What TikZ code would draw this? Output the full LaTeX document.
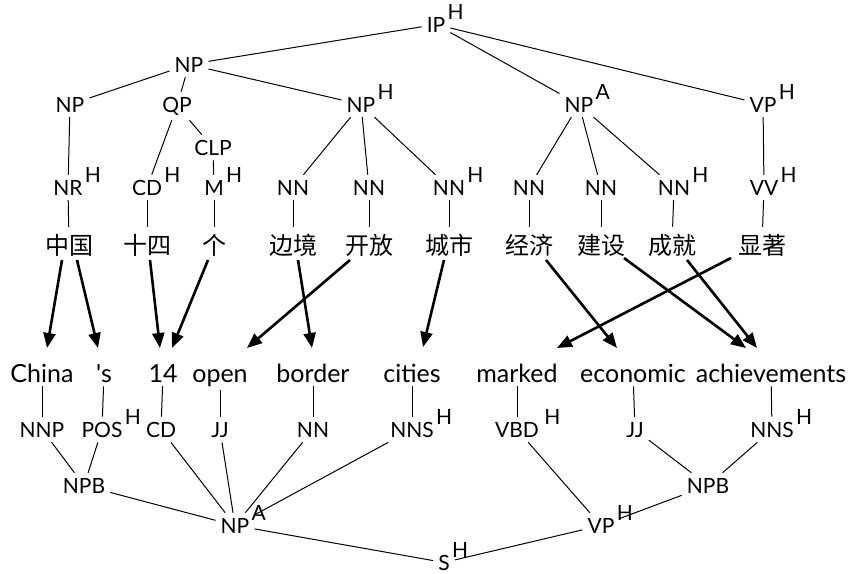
\documentclass[tikz,border=0pt]{standalone}
\usepackage{fontspec}
\setmainfont{Lato}
\newfontfamily\zhfont{Noto Sans CJK SC}
\usetikzlibrary{arrows.meta,calc}
\begin{document}
\begin{tikzpicture}[x=1pt,y=-1pt,
 tag/.style={font=\fontsize{21}{21}\selectfont, inner xsep=5pt, inner ysep=5pt, anchor=base},
 wd/.style={font=\fontsize{25}{25}\selectfont, inner sep=4pt, anchor=base},
 zh/.style={font=\zhfont\fontsize{24}{24}\selectfont, inner sep=7pt},
 sup/.style={font=\fontsize{21}{21}\selectfont, inner sep=0pt, anchor=base west, xshift=-3pt, yshift=-8pt},
 hh/.style={label={[sup]north east:H}},
 aa/.style={label={[sup]north east:A}},
 ln/.style={line width=1pt},
 arr/.style={line width=2.6pt, -{Triangle[length=15pt,width=12pt]}},
]
\useasboundingbox (0,0) rectangle (848,573);
% top tree
\node[tag,hh] (ip) at (436,32) {IP};
\node[tag] (np0) at (189,72) {NP};
\node[tag] (np1) at (70,112) {NP};
\node[tag] (qp) at (177,112) {QP};
\node[tag,hh] (nph) at (361,112) {NP};
\node[tag,aa] (npa) at (579,112) {NP};
\node[tag,hh] (vp) at (763,112) {VP};
\node[tag] (clp) at (213,155) {CLP};
\node[tag,hh] (nr) at (68,195) {NR};
\node[tag,hh] (cd) at (147,195) {CD};
\node[tag,hh] (m) at (214,195) {M};
\node[tag] (nn1) at (293,195) {NN};
\node[tag] (nn2) at (369,195) {NN};
\node[tag,hh] (nn3) at (449,195) {NN};
\node[tag] (nn4) at (529,195) {NN};
\node[tag] (nn5) at (601,195) {NN};
\node[tag,hh] (nn6) at (674,195) {NN};
\node[tag,hh] (vv) at (764,195) {VV};
% chinese words
\node[zh] (zg) at (69,245) {中国};
\node[zh] (sg) at (147,245) {十四};
\node[zh] (ge) at (214,245) {个};
\node[zh] (bj) at (293,245) {边境};
\node[zh] (kf) at (369,245) {开放};
\node[zh] (cs) at (449,245) {城市};
\node[zh] (jjz) at (529,245) {经济};
\node[zh] (js) at (601,245) {建设};
\node[zh] (cj) at (672,245) {成就};
\node[zh] (xz) at (762,245) {显著};
% english words
\node[wd] (china) at (42,382) {China};
\node[wd] (ps) at (104,382) {\textquotesingle s};
\node[wd] (n14) at (163,382) {14};
\node[wd] (open) at (220,382) {open};
\node[wd] (border) at (313,382) {border};
\node[wd] (cities) at (412,382) {cities};
\node[wd] (marked) at (517,382) {marked};
\node[wd] (econ) at (633,382) {economic};
\node[wd] (achv) at (771,382) {achievements};
% bottom tags
\node[tag] (nnp) at (42,437) {NNP};
\node[tag,hh] (pos) at (102,437) {POS};
\node[tag] (cdb) at (161,437) {CD};
\node[tag] (jjb) at (220,437) {JJ};
\node[tag] (nnb) at (313,437) {NN};
\node[tag,hh] (nns1) at (412,437) {NNS};
\node[tag,label={[sup,xshift=3pt]north east:H}] (vbd) at (517,437) {VBD};
\node[tag] (jjc) at (635,437) {JJ};
\node[tag,hh] (nns2) at (772,437) {NNS};
\node[tag] (npb1) at (84,493) {NPB};
\node[tag] (npb2) at (708,493) {NPB};
\node[tag,aa] (npab) at (235,533) {NP};
\node[tag,hh] (vpb) at (601,533) {VP};
\node[tag,hh] (s) at (444,570) {S};
% top tree edges
\draw[ln] (ip) -- (np0);
\draw[ln] (ip) -- (npa);
\draw[ln] (ip) -- (vp);
\draw[ln] (np0) -- (np1);
\draw[ln] (np0) -- (qp);
\draw[ln] (np0) -- (nph);
\draw[ln] (np1) -- (nr);
\draw[ln] (qp) -- (cd);
\draw[ln] (qp) -- (clp);
\draw[ln] (clp) -- (m);
\draw[ln] (nph) -- (nn1);
\draw[ln] (nph) -- (nn2);
\draw[ln] (nph) -- (nn3);
\draw[ln] (npa) -- (nn4);
\draw[ln] (npa) -- (nn5);
\draw[ln] (npa) -- (nn6);
\draw[ln] (vp) -- (vv);
\draw[ln] (nr) -- (zg);
\draw[ln] (cd) -- (sg);
\draw[ln] (m) -- (ge);
\draw[ln] (nn1) -- (bj);
\draw[ln] (nn2) -- (kf);
\draw[ln] (nn3) -- (cs);
\draw[ln] (nn4) -- (jjz);
\draw[ln] (nn5) -- (js);
\draw[ln] (nn6) -- (cj);
\draw[ln] (vv) -- (xz);
% bottom tree edges
\draw[ln] (china) -- (nnp);
\draw[ln] (ps) -- (pos);
\draw[ln] (n14) -- (cdb);
\draw[ln] (open) -- (jjb);
\draw[ln] (border) -- (nnb);
\draw[ln] (cities) -- (nns1);
\draw[ln] (marked) -- (vbd);
\draw[ln] (econ) -- (jjc);
\draw[ln] (achv) -- (nns2);
\draw[ln] (nnp) -- (npb1);
\draw[ln] (pos) -- (npb1);
\draw[ln] (npb1) -- (npab);
\draw[ln] (cdb) -- (npab);
\draw[ln] (jjb) -- (npab);
\draw[ln] (nnb) -- (npab);
\draw[ln] (nns1) -- (npab);
\draw[ln] (npab) -- (s);
\draw[ln] (vbd) -- (vpb);
\draw[ln] (jjc) -- (npb2);
\draw[ln] (nns2) -- (npb2);
\draw[ln] (npb2) -- (vpb);
\draw[ln] (vpb) -- (s);
% alignment arrows
\draw[arr] ($(zg.center)+(-7,15)$) -- ($(china.base)+(5,-34)$);
\draw[arr] ($(zg.center)+(8,15)$) -- ($(ps.base)+(-6,-34)$);
\draw[arr] ($(sg.center)+(3,15)$) -- ($(n14.base)+(-3,-34)$);
\draw[arr] ($(ge.center)+(-6,15)$) -- ($(n14.base)+(9,-34)$);
\draw[arr] ($(kf.center)+(-19,15)$) -- ($(open.base)+(27,-34)$);
\draw[arr] ($(bj.center)+(5,15)$) -- ($(border.base)+(-1,-34)$);
\draw[arr] ($(cs.center)+(-5,15)$) -- ($(cities.base)+(11,-35)$);
\draw[arr] ($(jjz.center)+(17,15)$) -- ($(econ.base)+(-16,-34)$);
\draw[arr] ($(js.center)+(23,13)$) -- ($(achv.base)+(-25,-34)$);
\draw[arr] ($(cj.center)+(15,15)$) -- ($(achv.base)+(-14,-34)$);
\draw[arr] ($(xz.center)+(-31,13)$) -- ($(marked.base)+(40,-34)$);
\end{tikzpicture}
\end{document}
